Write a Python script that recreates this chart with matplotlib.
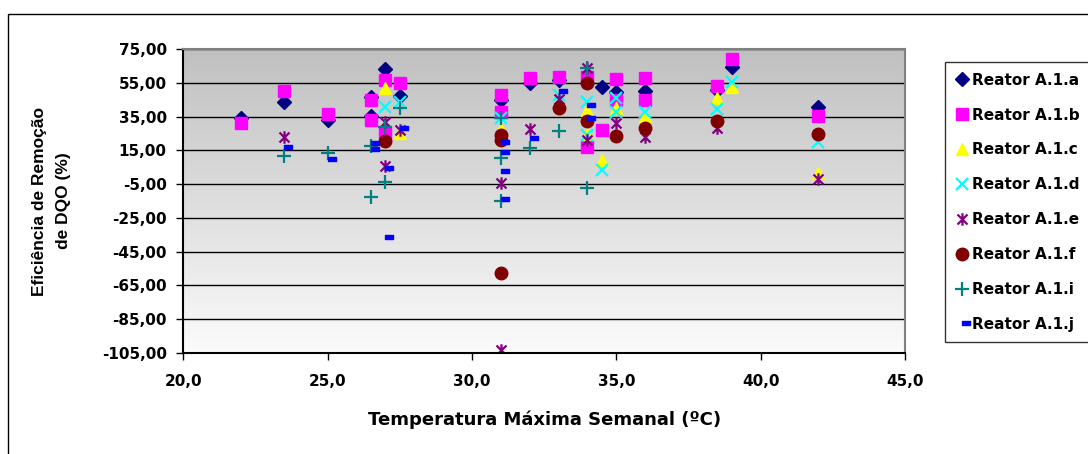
import matplotlib
matplotlib.use("Agg")
import matplotlib.pyplot as plt
import numpy as np
from matplotlib.path import Path
from matplotlib.patches import Rectangle
from matplotlib.colors import LinearSegmentedColormap

plt.rcParams['font.family'] = ['DejaVu Sans']
plt.rcParams['font.weight'] = 'bold'

# temperatura maxima semanal (x) e eficiencia de remocao de DQO (y)
a_x = [22, 23.5, 25, 26.5, 26.5, 27, 27.5, 31, 32, 33, 34.5, 35, 36, 38.5, 39, 42]
a_y = [34.4, 43.9, 33, 46.9, 35.4, 63.3, 47.3, 45, 55, 57, 52.4, 49.8, 50.4, 50.8, 64.7, 41]

b_x = [22, 23.5, 25, 26.5, 26.5, 27, 27, 27.5, 31, 31, 32, 33, 34, 34, 34.5, 35, 35, 36, 36, 38.5, 39, 42]
b_y = [31.1, 50.4, 36.6, 44.9, 33.2, 56.8, 26.1, 54.8, 47.9, 38, 57.8, 58.8, 58.8, 17.2, 27.1, 57.2, 45,
       57.8, 45, 53.4, 69.2, 35.4]

c_x = [27, 27.5, 31, 34, 34, 34.5, 35, 36, 38.5, 39, 42]
c_y = [52.2, 25.5, 28, 39, 25, 9.3, 40, 35.4, 45.9, 52.8, 1.8]

d_x = [27, 27.5, 31, 33, 34, 34, 34.5, 35, 35, 36, 38.5, 39, 42]
d_y = [41, 43.5, 34.5, 47.9, 43.9, 24.1, 3.4, 45.9, 38, 38, 39.4, 55.8, 20.2]

e_x = [23.5, 27, 27, 27.5, 31, 31, 32, 33, 34, 34, 35, 36, 38.5, 42]
e_y = [22.8, 32, 5.7, 27.1, -4.5, -103.5, 27.5, 45.3, 63.7, 21.2, 31.1, 22.8, 28.1, -2.2]

f_x = [27, 31, 31, 31, 33, 34, 34, 35, 36, 38.5, 42]
f_y = [20.6, 24.1, 21, -57.6, 40, 54.8, 32.6, 23.7, 28.1, 32.4, 24.7]

i_x = [23.5, 25, 26.5, 26.5, 27, 27, 27.5, 31, 31, 31, 32, 33, 34, 34]
i_y = [11.7, 13.3, 17.6, -12.5, 29, -3.5, 40, 34, 10.3, -15, 16.2, 26.7, 63.7, -7.1]

j_x = [23.5, 25, 26.5, 26.5, 27, 27, 27.5, 31, 31, 31, 31, 32, 33, 34, 34]
j_y = [17.2, 9.9, 19.2, 15.6, 4.4, -36.2, 28.1, 20.2, 14.2, 2.7, -13.6, 22.5, 50.3, 42, 34.4]

labels = ['Reator A.1.a', 'Reator A.1.b', 'Reator A.1.c', 'Reator A.1.d',
          'Reator A.1.e', 'Reator A.1.f', 'Reator A.1.i', 'Reator A.1.j']

yticks = [75, 55, 35, 15, -5, -25, -45, -65, -85, -105]
ytick_labels = ['75,00', '55,00', '35,00', '15,00', '-5,00', '-25,00', '-45,00',
                '-65,00', '-85,00', '-105,00']
xticks = [20, 25, 30, 35, 40, 45]
xtick_labels = ['20,0', '25,0', '30,0', '35,0', '40,0', '45,0']

# excel-like markers
star = Path([(-1, -1), (1, 1), (-1, 1), (1, -1), (0, -1.25), (0, 1.25)],
            [Path.MOVETO, Path.LINETO, Path.MOVETO, Path.LINETO, Path.MOVETO, Path.LINETO])
dash = Path([(0.0, -0.3), (1, -0.3), (1, 0.3), (0.0, 0.3), (0.0, -0.3)],
            [Path.MOVETO, Path.LINETO, Path.LINETO, Path.LINETO, Path.CLOSEPOLY])

fig = plt.figure(figsize=(10.88, 4.54), dpi=100)
ax = fig.add_axes([183.3 / 1088, 1 - 352.7 / 454, (905 - 183.3) / 1088, (352.7 - 49.3) / 454])

cmap = LinearSegmentedColormap.from_list('bg', ['#c0c0c0', '#fbfbfb'])
ax.imshow(np.linspace(0, 1, 256).reshape(-1, 1), cmap=cmap, aspect='auto',
          extent=[20, 45, -105, 75], zorder=0)

ax.plot(a_x, a_y, ls='none', marker='D', ms=7, color='#000080', label=labels[0])
ax.plot(b_x, b_y, ls='none', marker='s', ms=9, color='#ff00ff', label=labels[1])
ax.plot(c_x, c_y, ls='none', marker='^', ms=9, color='#ffff00', label=labels[2])
ax.plot(d_x, d_y, ls='none', marker='x', ms=8.5, mew=1.6, color='#00ffff', label=labels[3])
ax.plot(e_x, e_y, ls='none', marker=star, ms=9, mew=1.6, color='#800080', label=labels[4])
ax.plot(f_x, f_y, ls='none', marker='o', ms=9, color='#800000', label=labels[5])
ax.plot(i_x, i_y, ls='none', marker='+', ms=9.5, mew=1.6, color='#008080', label=labels[6])
ax.plot(j_x, j_y, ls='none', marker=dash, ms=11, color='#0000ff', label=labels[7])

ax.set_xlim(20, 45)
ax.set_ylim(-105, 75)
ax.set_yticks(yticks)
ax.set_yticklabels(ytick_labels)
ax.set_xticks(xticks)
ax.set_xticklabels(xtick_labels)
ax.tick_params(direction='out', length=5, width=1, labelsize=11, color='black')
ax.tick_params(axis='y', pad=7)
ax.tick_params(axis='x', pad=10)
ax.yaxis.grid(True, color='black', lw=1)
ax.set_axisbelow(True)

ax.spines['left'].set_color('black')
ax.spines['bottom'].set_color('black')
ax.spines['top'].set_color('#808080')
ax.spines['right'].set_color('#808080')
for s in ax.spines.values():
    s.set_linewidth(1.5)

ax.set_xlabel('Temperatura Máxima Semanal (ºC)', fontsize=13, fontweight='bold', labelpad=16)
ax.set_ylabel('Eficiência de Remoção\nde DQO (%)', fontsize=12.5, fontweight='bold',
              family='Liberation Sans', linespacing=1.75, labelpad=22)

leg = fig.legend(loc='upper left', bbox_to_anchor=(945 / 1088, 1 - 62 / 454),
                 fontsize=11, frameon=True, fancybox=False, edgecolor='black',
                 borderpad=0.7, labelspacing=1.3, handletextpad=0.25, handlelength=0.8,
                 borderaxespad=0)
leg.get_frame().set_linewidth(1)

fig.patches.append(Rectangle((8 / 1088, -0.05), 1.2, 1.05 - 13.5 / 454, transform=fig.transFigure,
                             fill=False, edgecolor='black', lw=1))

fig.savefig('out.png', dpi=100)
